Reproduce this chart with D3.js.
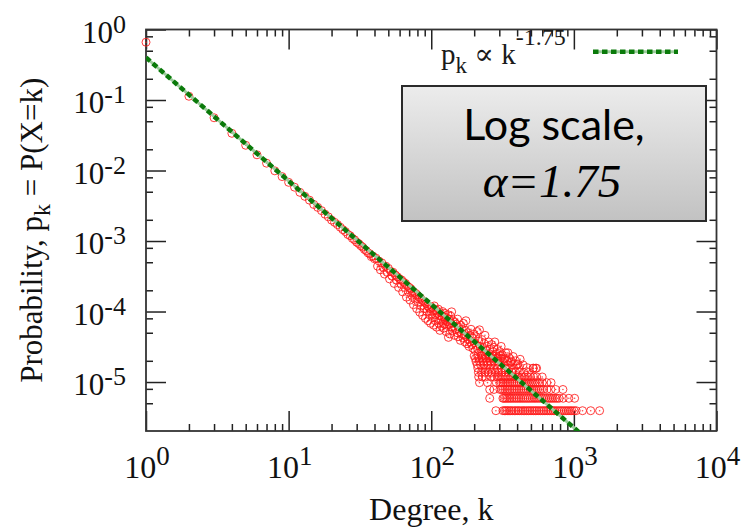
<!DOCTYPE html>
<html><head><meta charset="utf-8">
<script src="https://cdn.jsdelivr.net/npm/d3@7"></script>
<style>body{margin:0;background:#fff} svg{display:block}</style>
</head><body>
<svg id="chart" width="744" height="531"></svg>
<script>
// ---------- axis definitions ----------
const xMajorTicks = [1, 10, 100, 1000, 10000];
const xTickExp = ["0", "1", "2", "3", "4"];
const yMajorTicks = [1, 1e-1, 1e-2, 1e-3, 1e-4, 1e-5];
const yTickExp = ["0", "-1", "-2", "-3", "-4", "-5"];
const xMinorMultipliers = [2, 3, 4, 5, 6, 7, 8, 9];
const yMinorMultipliers = [2, 5, 8];
const xDomain = [1, 1e4];
const yDomain = [2.02e-6, 1];

// ---------- fit ----------
const fitCoef = 0.4;
const fitExponent = -1.75;
const fitRange = [1, 1100];

// ---------- data: single points, k = 1..30 ----------
const lowK = [1,2,3,4,5,6,7,8,9,10,11,12,13,14,15,16,17,18,19,20,21,22,23,24,25,26,27,28,29,30];
const lowP = [0.66,0.113,0.056,0.0337,0.0228,0.0167,0.0127,0.0099,0.0082,0.0068,0.0058,0.0049,0.0043,0.0038,0.0033,0.0030,0.0027,0.0024,0.0022,0.00198,0.00184,0.00171,0.00157,0.00145,0.00136,0.00124,0.00119,0.00109,0.00104,0.00096];

// ---------- data: k = 31..100 ----------
const midK = [31,32,33,34,35,36,37,38,39,40,41,42,43,44,45,46,47,48,49,50,51,52,53,54,55,56,57,58,59,60,61,62,63,64,65,66,67,68,69,70,71,72,73,74,75,76,77,78,79,80,81,82,83,84,85,86,87,88,89,90,91,92,93,94,95,96,97,98,99,100];
const midP = [9.2e-4,8.6e-4,8.2e-4,7.6e-4,7.3e-4,6.8e-4,6.6e-4,6.0e-4,6.1e-4,5.6e-4,5.7e-4,4.4e-4,5.2e-4,3.9e-4,4.9e-4,4.2e-4,3.4e-4,4.4e-4,3.6e-4,4.1e-4,2.9e-4,3.7e-4,3.2e-4,3.6e-4,2.5e-4,3.3e-4,2.8e-4,3.1e-4,2.2e-4,2.9e-4,2.5e-4,2.8e-4,1.9e-4,2.6e-4,2.2e-4,2.5e-4,1.6e-4,2.3e-4,1.9e-4,2.2e-4,1.45e-4,2.1e-4,1.7e-4,1.95e-4,1.25e-4,1.85e-4,1.5e-4,1.8e-4,1.1e-4,1.7e-4,1.35e-4,1.6e-4,9.8e-5,1.55e-4,1.2e-4,1.45e-4,8.8e-5,1.4e-4,1.1e-4,1.35e-4,8.0e-5,1.3e-4,1.0e-4,1.2e-4,7.4e-5,1.15e-4,9.0e-5,1.1e-4,6.8e-5,1.0e-4];

// ---------- data: k = 101..540 (broad band) ----------
const bandK = [101,102,103,104,105,106,107,108,109,110,111,112,113,114,115,116,117,118,119,120,121,122,123,124,125,126,127,128,129,130,131,132,133,134,135,136,137,138,139,140,142,144,145,146,148,150,152,153,154,156,158,160,161,163,165,167,168,170,172,174,175,176,178,180,182,184,186,188,190,192,194,196,198,200,203,205,208,210,212,215,218,220,223,226,229,232,235,238,241,245,249,253,257,261,265,270,275,279,284,290,296,302,309,316,324,333,345,352,362,375,390,405,420,440,470,517,540];
const bandP = [1.15e-4,8.2e-5,1.02e-4,6.4e-5,1.2e-4,9.0e-5,7.4e-5,1.05e-4,6.0e-5,9.4e-5,8.0e-5,1.08e-4,6.8e-5,8.8e-5,5.4e-5,9.6e-5,7.6e-5,6.2e-5,8.6e-5,1.0e-4,7.0e-5,5.8e-5,8.4e-5,6.6e-5,9.4e-5,7.6e-5,5.2e-5,8.0e-5,6.4e-5,7.2e-5,9.0e-5,4.3e-5,7.8e-5,6.6e-5,4.8e-5,7.0e-5,8.6e-5,6.0e-5,9.9e-5,5.4e-5,7.4e-5,6.2e-5,4.6e-5,7.0e-5,5.6e-5,6.6e-5,5.0e-5,7.8e-5,4.4e-5,6.0e-5,5.2e-5,3.9e-5,6.4e-5,4.8e-5,5.6e-5,4.2e-5,6.8e-5,4.6e-5,3.7e-5,5.4e-5,7.4e-5,4.4e-5,3.5e-5,5.0e-5,4.0e-5,3.2e-5,4.6e-5,3.7e-5,5.6e-5,3.4e-5,4.2e-5,3.0e-5,4.8e-5,3.6e-5,2.8e-5,4.4e-5,3.3e-5,5.2e-5,2.9e-5,3.8e-5,5.5e-5,3.2e-5,2.6e-5,4.0e-5,3.0e-5,2.4e-5,3.5e-5,4.6e-5,2.8e-5,3.2e-5,2.5e-5,3.7e-5,2.9e-5,2.3e-5,3.4e-5,2.7e-5,3.1e-5,3.7e-5,2.5e-5,2.9e-5,2.2e-5,2.7e-5,3.2e-5,2.4e-5,2.1e-5,2.6e-5,2.6e-5,2.2e-5,1.9e-5,2.3e-5,2.0e-5,1.8e-5,2.1e-5,1.75e-5,1.6e-5,1.57e-5,1.57e-5];

// ---------- data: tail, discrete probability levels ----------
const tailLevels = [3.92e-6, 5.88e-6, 7.84e-6, 9.8e-6, 1.18e-5, 1.37e-5, 1.57e-5, 1.76e-5, 1.96e-5, 2.16e-5, 2.35e-5];
const tailDegrees = [
  [284,318,326,333,341,352,361,370,383,392,405,414,428,441,452,467,480,493,508,522,537,551,568,584,603,619,637,655,676,694,716,735,758,781,806,829,857,884,911,941,968,1003,1038,1150,1312,1515],
  [257,318,324,332,340,349,358,368,379,390,401,413,425,438,451,465,479,494,510,526,541,558,576,594,612,631,652,673,693,715,739,763,789,842,922,1012],
  [257,275,303,312,320,329,338,347,357,367,378,389,400,412,424,437,450,464,478,493,508,524,540,557,575,593,612,648,690,745,838],
  [218,248,286,302,310,318,327,336,346,356,367,378,390,402,414,427,441,455,470,486,502,519,537,555,574,600,645,692],
  [215,228,240,262,276,290,300,316,330,345,362,378,395,412,430,452,474,498,522,548,600],
  [214,225,238,251,265,281,296,312,330,348,368,390,415,445,480],
  [212,229,243,258,274,291,310,330,352,378,410,520,548],
  [210,222,235,249,263,282,300,322,345,372,400],
  [206,218,231,246,260,275,295,318,340,365],
  [204,216,228,242,256,270,288,308,330],
  [200,212,226,240,254,268,285,305]
];

// ---------- text ----------
const xTitle = "Degree, k";
const boxLine1 = "Log scale,";
const boxLine2 = "α=1.75";

// ---------- drawing ----------
const svg = d3.select("#chart");
const serif = "'Liberation Serif','DejaVu Serif',serif";
const plot = {left: 146, right: 716.5, top: 29.5, bottom: 431};
const x = d3.scaleLog().domain(xDomain).range([plot.left, plot.right]);
const y = d3.scaleLog().domain(yDomain).range([plot.bottom, plot.top]);

const defs = svg.append("defs");
defs.append("clipPath").attr("id", "clip").append("rect")
  .attr("x", plot.left).attr("y", plot.top)
  .attr("width", plot.right - plot.left).attr("height", plot.bottom - plot.top);
const grad = defs.append("linearGradient").attr("id", "boxGrad")
  .attr("x1", 0).attr("y1", 0).attr("x2", 0).attr("y2", 1);
grad.append("stop").attr("offset", "0%").attr("stop-color", "#ececec");
grad.append("stop").attr("offset", "100%").attr("stop-color", "#c2c2c2");

// minor tick values
const xMinorTicks = [];
for (let d = 1; d < 1e4; d *= 10) xMinorMultipliers.forEach(m => xMinorTicks.push(d * m));
const yMinorTicks = [];
for (let d = 1e-6; d < 1; d *= 10) yMinorMultipliers.forEach(m => { const v = d * m; if (v >= yDomain[0] && v <= 1) yMinorTicks.push(v); });

function styleAxis(g) {
  g.select(".domain").remove();
  g.selectAll(".tick line").attr("stroke", "#222").attr("stroke-width", 1.5);
  g.selectAll(".tick text").remove();
}
const axes = [
  [d3.axisBottom, x, `translate(0,${plot.bottom})`],
  [d3.axisTop, x, `translate(0,${plot.top})`],
  [d3.axisLeft, y, `translate(${plot.left},0)`],
  [d3.axisRight, y, `translate(${plot.right},0)`]
];
axes.forEach(([fn, sc, tr]) => {
  const isX = sc === x;
  svg.append("g").attr("transform", tr)
    .call(fn(sc).tickValues(isX ? xMajorTicks : yMajorTicks).tickSize(-20).tickFormat(""))
    .call(styleAxis);
  svg.append("g").attr("transform", tr)
    .call(fn(sc).tickValues(isX ? xMinorTicks : yMinorTicks).tickSize(-7).tickFormat(""))
    .call(styleAxis);
});

// frame
svg.append("rect").attr("x", plot.left).attr("y", plot.top)
  .attr("width", plot.right - plot.left).attr("height", plot.bottom - plot.top)
  .attr("fill", "none").attr("stroke", "#333").attr("stroke-width", 1.8);

// tick labels
xMajorTicks.forEach((v, i) => {
  const t = svg.append("text").attr("x", x(v) + 1).attr("y", 478)
    .attr("text-anchor", "middle").attr("font-family", serif).attr("font-size", 32).attr("fill", "#111");
  t.append("tspan").text("10");
  t.append("tspan").attr("dy", -13).attr("font-size", 27).text(xTickExp[i]);
});
yMajorTicks.forEach((v, i) => {
  const t = svg.append("text").attr("x", 126).attr("y", y(v) + 13)
    .attr("text-anchor", "end").attr("font-family", serif).attr("font-size", 31).attr("fill", "#111");
  t.append("tspan").text("10");
  t.append("tspan").attr("dy", -10).attr("font-size", 26).text(yTickExp[i]);
});

// axis titles
svg.append("text").attr("x", (plot.left + plot.right) / 2).attr("y", 520)
  .attr("text-anchor", "middle").attr("font-family", serif).attr("font-size", 32).attr("fill", "#111")
  .text(xTitle);
const yt = svg.append("text")
  .attr("transform", `translate(42,${(plot.top + plot.bottom) / 2}) rotate(-90)`)
  .attr("text-anchor", "middle").attr("font-family", serif).attr("font-size", 31).attr("fill", "#111");
yt.append("tspan").text("Probability, p");
yt.append("tspan").attr("dy", 8).attr("font-size", 24).text("k");
yt.append("tspan").attr("dy", -8).text(" = P(X=k)");

// data points
const pts = [];
lowK.forEach((k, i) => pts.push([k, lowP[i]]));
midK.forEach((k, i) => pts.push([k, midP[i]]));
bandK.forEach((k, i) => pts.push([k, bandP[i]]));
tailLevels.forEach((p, i) => tailDegrees[i].forEach(k => pts.push([k, p])));

const pg = svg.append("g");
pg.selectAll("circle.pt").data(pts).join("circle").attr("class", "pt")
  .attr("cx", d => x(d[0])).attr("cy", d => y(d[1])).attr("r", 4)
  .attr("fill", "none").attr("stroke", "#ff1a1a").attr("stroke-width", 1).attr("stroke-opacity", 0.85);
pg.selectAll("circle.dot").data(pts).join("circle").attr("class", "dot")
  .attr("cx", d => x(d[0])).attr("cy", d => y(d[1])).attr("r", 0.8)
  .attr("fill", "#ff1a1a").attr("fill-opacity", 0.8);

// fit line
const fitPts = fitRange.map(k => [k, fitCoef * Math.pow(k, fitExponent)]);
const line = d3.line().x(d => x(d[0])).y(d => y(d[1]));
const fg = svg.append("g").attr("clip-path", "url(#clip)");
fg.append("path").attr("d", line(fitPts)).attr("fill", "none")
  .attr("stroke", "#9ccc9c").attr("stroke-width", 3);
fg.append("path").attr("d", line(fitPts)).attr("fill", "none")
  .attr("stroke", "#0a7a0a").attr("stroke-width", 4.5).attr("stroke-dasharray", "5.5,3.5");

// legend
const lg = svg.append("text").attr("x", 441).attr("y", 63.5)
  .attr("font-family", serif).attr("font-size", 29).attr("fill", "#1a1a1a");
lg.append("tspan").text("p");
lg.append("tspan").attr("dy", 9).attr("font-size", 23).text("k");
lg.append("tspan").attr("dy", -9).text(" \u221D k");
lg.append("tspan").attr("dy", -18.5).attr("font-size", 24).text("-1.75");
svg.append("line").attr("x1", 593).attr("x2", 678).attr("y1", 51.7).attr("y2", 51.7)
  .attr("stroke", "#9ccc9c").attr("stroke-width", 3);
svg.append("line").attr("x1", 593).attr("x2", 678).attr("y1", 51.7).attr("y2", 51.7)
  .attr("stroke", "#0a7a0a").attr("stroke-width", 4.5).attr("stroke-dasharray", "5.5,3.5");

// annotation box
svg.append("rect").attr("x", 402).attr("y", 86).attr("width", 304).attr("height", 135)
  .attr("fill", "url(#boxGrad)").attr("stroke", "#2a2a2a").attr("stroke-width", 2);
svg.append("text").attr("x", 554).attr("y", 140).attr("text-anchor", "middle")
  .attr("font-family", "Lato, 'Open Sans', sans-serif").attr("font-size", 43).attr("fill", "#000")
  .text(boxLine1);
svg.append("text").attr("x", 552).attr("y", 197).attr("text-anchor", "middle")
  .attr("font-family", serif).attr("font-style", "italic").attr("font-size", 47).attr("fill", "#000")
  .text(boxLine2);
</script>
</body></html>
